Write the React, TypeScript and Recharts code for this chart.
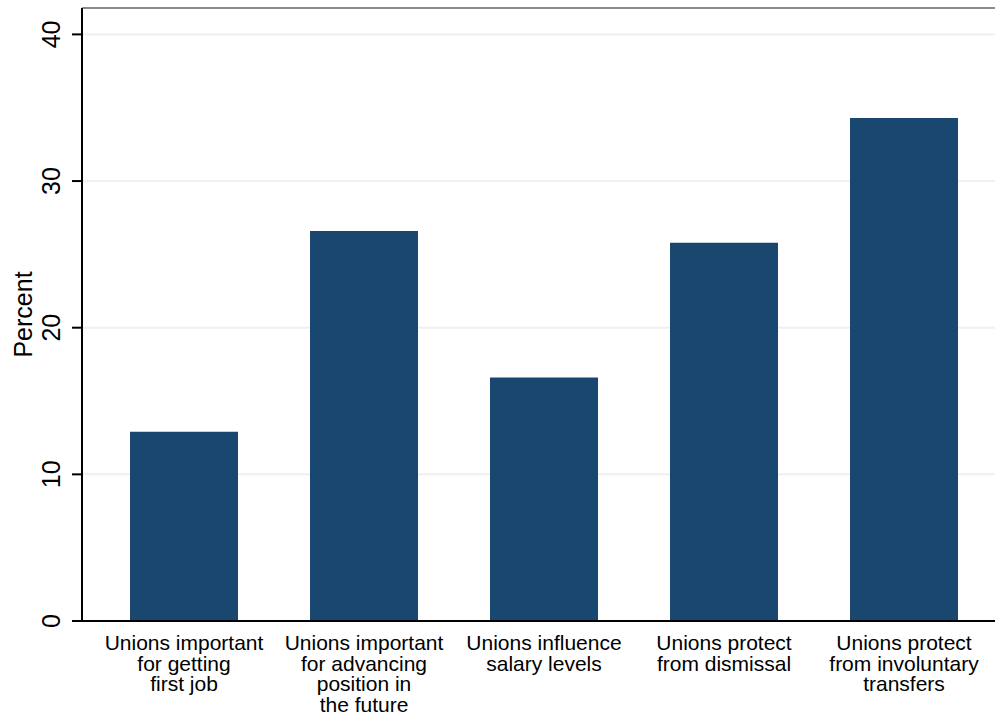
import { Bar, BarChart, CartesianGrid, XAxis, YAxis } from "recharts";

// ─── Data ────────────────────────────────────────────────────
const CATEGORIES = [
  "Unions important for getting first job",
  "Unions important for advancing position in the future",
  "Unions influence salary levels",
  "Unions protect from dismissal",
  "Unions protect from involuntary transfers",
];
const LABEL_LINES = [
  ["Unions important", "for getting", "first job"],
  ["Unions important", "for advancing", "position in", "the future"],
  ["Unions influence", "salary levels"],
  ["Unions protect", "from dismissal"],
  ["Unions protect", "from involuntary", "transfers"],
];
const PERCENT = [12.9, 26.6, 16.6, 25.8, 34.3];
const Y_TICKS = [0, 10, 20, 30, 40];

const data = CATEGORIES.map((c, i) => ({ name: c, idx: i, value: PERCENT[i] }));

// ─── Style ───────────────────────────────────────────────────
const BAR_COLOR = "#1a476f";
const GRID_COLOR = "#eaf2f3";
const FONT = "'Liberation Sans', Arial, Helvetica, sans-serif";

function YTick({ x, y, payload }: any) {
  return (
    <text
      x={x - 10}
      y={y}
      transform={`rotate(-90, ${x - 10}, ${y})`}
      textAnchor="middle"
      fontSize={25}
      fontFamily={FONT}
      fill="#000"
    >
      {payload.value}
    </text>
  );
}

function XTick({ x, y, payload, index }: any) {
  const lines = LABEL_LINES[index] ?? [payload.value];
  return (
    <text x={x} y={y} textAnchor="middle" fontSize={21} fontFamily={FONT} fill="#000">
      {lines.map((l: string, i: number) => (
        <tspan key={i} x={x} y={y + 29 + i * 20.7}>
          {l}
        </tspan>
      ))}
    </text>
  );
}

function YLabel({ viewBox }: any) {
  const cx = 32;
  const cy = viewBox.y + viewBox.height / 2;
  return (
    <text
      x={cx}
      y={cy}
      transform={`rotate(-90, ${cx}, ${cy})`}
      textAnchor="middle"
      fontSize={25}
      fontFamily={FONT}
      fill="#000"
    >
      Percent
    </text>
  );
}

export default function App() {
  return (
    <div style={{ position: "absolute", left: 0, top: 0, width: 995, height: 715, background: "#fff" }}>
      <BarChart
        width={995}
        height={715}
        data={data}
        margin={{ top: 8, right: 0, left: 0, bottom: 0 }}
        barCategoryGap="20%"
      >
        <CartesianGrid vertical={false} stroke={GRID_COLOR} strokeWidth={2} />
        <CartesianGrid
          vertical={false}
          stroke="#8a8a8a"
          strokeWidth={2}
          horizontalCoordinatesGenerator={({ offset }: any) => [offset.top]}
        />
        <XAxis
          dataKey="name"
          height={94}
          padding={{ left: 12, right: 1 }}
          tickLine={false}
          tickSize={0}
          tickMargin={0}
          axisLine={{ stroke: "#000", strokeWidth: 2 }}
          tick={<XTick />}
          interval={0}
        />
        <YAxis
          width={82}
          domain={[0, 41.8]}
          ticks={Y_TICKS}
          allowDataOverflow
          tickSize={10}
          tickLine={{ stroke: "#000", strokeWidth: 2 }}
          axisLine={{ stroke: "#000", strokeWidth: 2 }}
          tick={<YTick />}
          label={<YLabel />}
        />
        <Bar dataKey="value" fill={BAR_COLOR} isAnimationActive={false} />
      </BarChart>
    </div>
  );
}
